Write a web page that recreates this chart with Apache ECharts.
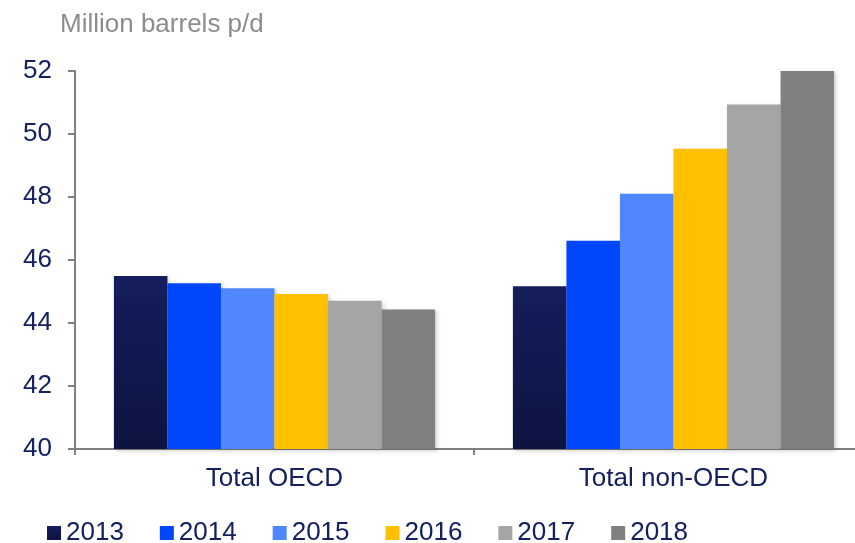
<!DOCTYPE html>
<html>
<head>
<meta charset="utf-8">
<script src="https://cdn.jsdelivr.net/npm/echarts@6/dist/echarts.min.js"></script>
<style>
  html, body { margin: 0; padding: 0; background: #fff; }
  #chart { width: 855px; height: 543px; }
</style>
</head>
<body>
<div id="chart"></div>
<script>
// data
var categories = ['Total OECD', 'Total non-OECD'];
var years = ['2013', '2014', '2015', '2016', '2017', '2018'];
var v2013 = [45.49, 45.17];
var v2014 = [45.26, 46.61];
var v2015 = [45.10, 48.10];
var v2016 = [44.92, 49.53];
var v2017 = [44.71, 50.94];
var v2018 = [44.43, 52.00];
var yTicks = [40, 42, 44, 46, 48, 50, 52];

var navy = '#142060';

var chart = echarts.init(document.getElementById('chart'));

function bar(name, data, color) {
    return {
        name: name,
        type: 'bar',
        data: data,
        barGap: '0%',
        barCategoryGap: '19.5%',
        itemStyle: {
            color: color,
            shadowColor: 'rgba(0,0,0,0.18)',
            shadowBlur: 4,
            shadowOffsetX: 2,
            shadowOffsetY: 2
        }
    };
}

var option = {
    animation: false,
    textStyle: { fontFamily: 'Liberation Sans, Arial, sans-serif' },
    title: {
        text: 'Million barrels p/d',
        left: 55,
        top: 7,
        textStyle: { color: '#8c8c8c', fontSize: 26, fontWeight: 'normal' }
    },
    grid: {
        left: 75,
        width: 798,
        top: 71,
        height: 378,
        outerBoundsMode: 'none',
        containLabel: false
    },
    legend: {
        data: years,
        left: 42,
        top: 515,
        icon: 'rect',
        itemWidth: 14,
        itemHeight: 14,
        itemGap: 36,
        textStyle: { color: navy, fontSize: 26 }
    },
    xAxis: {
        type: 'category',
        data: categories,
        axisLine: { lineStyle: { color: '#808080', width: 2 } },
        axisTick: { show: true, length: 6, lineStyle: { color: '#808080', width: 2 } },
        axisLabel: { color: navy, fontSize: 26, margin: 17 }
    },
    yAxis: {
        type: 'value',
        min: yTicks[0],
        max: yTicks[yTicks.length - 1],
        interval: 2,
        splitLine: { show: false },
        axisLine: { show: true, lineStyle: { color: '#808080', width: 2 } },
        axisTick: { show: true, length: 7, lineStyle: { color: '#808080', width: 2 } },
        axisLabel: { color: navy, fontSize: 26, margin: 23 }
    },
    series: [
        bar('2013', v2013, new echarts.graphic.LinearGradient(0, 0, 0, 1, [
            { offset: 0, color: '#151d5c' },
            { offset: 1, color: '#0d1441' }
        ])),
        bar('2014', v2014, '#0047fb'),
        bar('2015', v2015, '#5086ff'),
        bar('2016', v2016, '#ffc000'),
        bar('2017', v2017, '#a5a5a5'),
        bar('2018', v2018, '#808080')
    ]
};

chart.setOption(option);
</script>
</body>
</html>
